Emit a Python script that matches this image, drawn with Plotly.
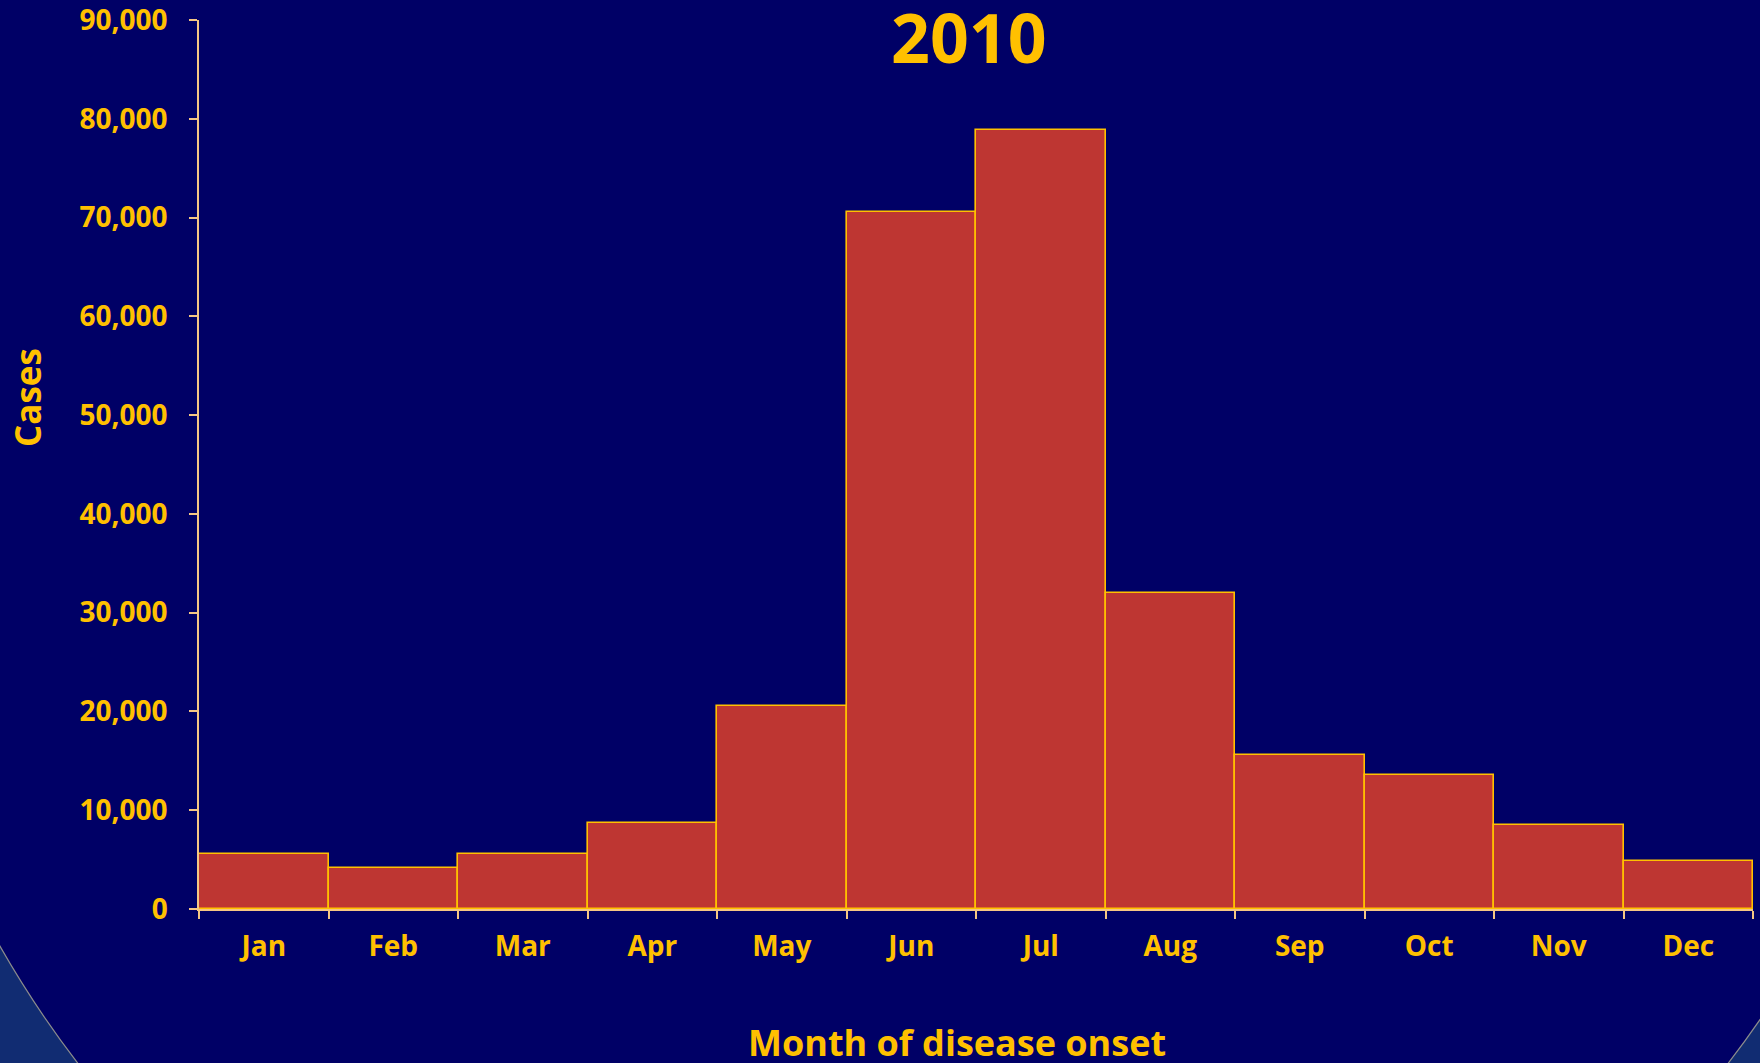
import plotly.graph_objects as go

# Monthly case counts by month of disease onset, 2010
months = ["Jan", "Feb", "Mar", "Apr", "May", "Jun",
          "Jul", "Aug", "Sep", "Oct", "Nov", "Dec"]
cases = [5600, 4200, 5600, 8700, 20600, 70600,
         78900, 32000, 15600, 13600, 8500, 4900]

y_ticks = [0, 10000, 20000, 30000, 40000, 50000, 60000, 70000, 80000, 90000]
y_ticktext = ["0", "10,000", "20,000", "30,000", "40,000", "50,000",
              "60,000", "70,000", "80,000", "90,000"]

W, H = 1760, 1063
ML, MR, MT, MB = 199, 7, 20, 154
PW, PH = W - ML - MR, H - MT - MB

GOLD = "#FFC000"
AXIS = "#F5C684"
NAVY = "#000066"
OUTER = "#112C72"
BAR = "#BE3632"
FONT = "Open Sans"


def px_x(px):
    return (px - ML) / PW


def px_y(py):
    return (H - MB - py) / PH


fig = go.Figure()
fig.add_trace(go.Bar(
    x=months,
    y=cases,
    width=1.0,
    marker=dict(color=BAR, line=dict(color=GOLD, width=1.6)),
    hoverinfo="x+y",
))

# slide backdrop: large dark disc over a lighter blue page
cx, cy, r = 903, 430, 1040
fig.add_shape(
    type="circle", xref="paper", yref="paper", layer="below",
    x0=px_x(cx - r), x1=px_x(cx + r), y0=px_y(cy + r), y1=px_y(cy - r),
    fillcolor=NAVY, line=dict(color="#8C8C8C", width=1.2),
)

fig.update_layout(
    width=W, height=H,
    margin=dict(l=ML, r=MR, t=MT, b=MB, pad=0, autoexpand=False),
    paper_bgcolor=OUTER,
    plot_bgcolor="rgba(0,0,0,0)",
    bargap=0,
    showlegend=False,
    font=dict(family=FONT, color=GOLD, size=28, weight=700),
    xaxis=dict(
        type="category",
        range=[-0.5, 11.5],
        automargin=False,
        showline=True, linecolor=AXIS, linewidth=1.5,
        ticks="outside", tickson="boundaries", ticklen=8,
        tickcolor=AXIS, tickwidth=1.5,
        tickfont=dict(family=FONT, color=GOLD, size=28, weight=700),
        ticklabelstandoff=12,
        ticklabeloverflow="allow",
        showgrid=False, zeroline=False,
    ),
    yaxis=dict(
        range=[0, 90000],
        automargin=False,
        tickvals=y_ticks, ticktext=y_ticktext,
        showline=True, linecolor=AXIS, linewidth=1.5,
        ticks="outside", ticklen=8, tickcolor=AXIS, tickwidth=1.5,
        tickfont=dict(family=FONT, color=GOLD, size=28, weight=700),
        ticklabelstandoff=16,
        ticklabeloverflow="allow",
        showgrid=False, zeroline=False,
    ),
    annotations=[
        dict(text="2010", xref="paper", yref="paper",
             x=px_x(969), y=px_y(36), xanchor="center", yanchor="middle",
             showarrow=False,
             font=dict(family=FONT, size=68, color=GOLD, weight=700)),
        dict(text="Month of disease onset", xref="paper", yref="paper",
             x=px_x(957), y=px_y(1042), xanchor="center", yanchor="middle",
             showarrow=False,
             font=dict(family=FONT, size=36, color=GOLD, weight=700)),
        dict(text="Cases", xref="paper", yref="paper",
             x=px_x(27), y=px_y(398), xanchor="center", yanchor="middle",
             textangle=-90, showarrow=False,
             font=dict(family=FONT, size=35, color=GOLD, weight=700)),
    ],
)

fig.write_html("out.html")
